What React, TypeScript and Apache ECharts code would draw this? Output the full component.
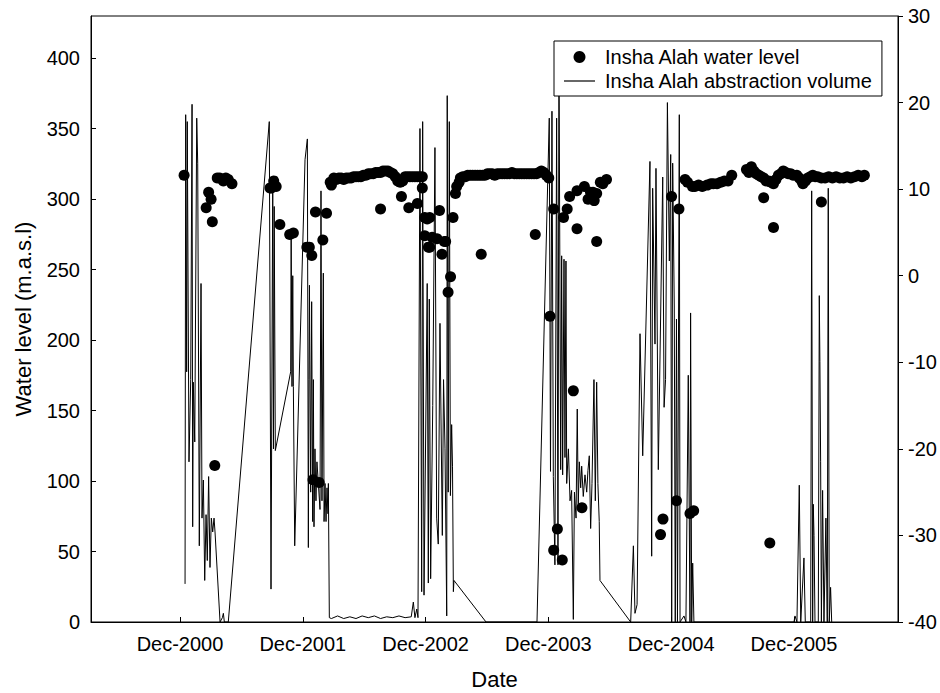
import React, { useEffect, useRef } from "react";
import * as echarts from "echarts";

// Water level (left axis, m.a.s.l) — date as decimal year
const wlDate = [
  2000.95, 2001.13, 2001.15, 2001.17, 2001.18, 2001.2, 2001.22, 2001.24, 2001.27, 2001.29, 2001.31, 2001.34,
  2001.65, 2001.66, 2001.68, 2001.7, 2001.73, 2001.81, 2001.84, 2001.95, 2001.97, 2001.99, 2002.0, 2002.02, 2002.05, 2002.08, 2002.11,
  2002.14, 2002.15, 2002.17, 2002.19, 2002.21, 2002.23, 2002.25, 2002.27, 2002.29, 2002.31, 2002.33, 2002.35, 2002.37, 2002.39,
  2002.41, 2002.43, 2002.45, 2002.47, 2002.49, 2002.51, 2002.53, 2002.55, 2002.57, 2002.59, 2002.61, 2002.63, 2002.65, 2002.67,
  2002.69, 2002.71, 2002.73, 2002.75, 2002.77, 2002.79, 2002.81, 2002.83, 2002.85, 2002.87, 2002.89,
  2002.55, 2002.72, 2002.78, 2002.85, 2002.89,
  2002.91, 2002.91, 2002.93, 2002.94, 2002.95, 2002.95, 2002.97, 2003.01, 2003.03, 2003.05, 2003.07, 2003.08, 2003.1, 2003.12, 2003.14,
  2003.16, 2003.17, 2003.19, 2003.2, 2003.22, 2003.24, 2003.26, 2003.28, 2003.3, 2003.32, 2003.34, 2003.36, 2003.38, 2003.4,
  2003.42, 2003.44, 2003.46, 2003.48, 2003.5, 2003.52, 2003.54, 2003.56, 2003.58, 2003.6, 2003.62, 2003.64, 2003.66, 2003.68,
  2003.7, 2003.72, 2003.74, 2003.76, 2003.78, 2003.8, 2003.82, 2003.84, 2003.86, 2003.88, 2003.9, 2003.92,
  2003.37, 2003.81,
  2003.93, 2003.96, 2003.96, 2003.99, 2004.03, 2004.04, 2004.07, 2004.09, 2004.12, 2004.15, 2004.15, 2004.19, 2004.21, 2004.24,
  2004.26, 2004.28, 2004.29, 2004.31, 2004.31, 2004.34, 2004.36, 2004.39,
  2004.83, 2004.85, 2004.92, 2004.96, 2004.98, 2005.03, 2005.05, 2005.07, 2005.1, 2005.09, 2005.11, 2005.14, 2005.17, 2005.21,
  2005.24, 2005.26, 2005.29, 2005.32, 2005.35, 2005.38, 2005.41,
  2005.53, 2005.55, 2005.57, 2005.59, 2005.61, 2005.63, 2005.65, 2005.67, 2005.67, 2005.69, 2005.71, 2005.72, 2005.73, 2005.75,
  2005.75, 2005.77, 2005.79, 2005.81, 2005.83, 2005.85, 2005.87, 2005.89, 2005.91, 2005.94, 2005.96, 2005.98, 2005.99, 2006.01,
  2006.03, 2006.05, 2006.07, 2006.09, 2006.11, 2006.14, 2006.14, 2006.17, 2006.2, 2006.23, 2006.26, 2006.29, 2006.32, 2006.35,
  2006.38, 2006.41, 2006.44, 2006.47, 2006.49,
];
const wlLevel = [
  317, 294, 305, 300, 284, 111, 315, 315, 313, 315, 314, 311,
  308, 308, 313, 309, 282, 275, 276, 266, 266, 260, 101, 291, 99, 271, 290,
  312, 310, 315, 314, 315, 315, 314, 315, 315, 315, 316, 316, 316, 316,
  317, 317, 318, 318, 318, 319, 319, 319, 320, 320, 320, 319, 318, 316,
  313, 312, 313, 316, 316, 316, 316, 316, 316, 316, 316,
  293, 302, 294, 297, 308,
  287, 274, 286, 266, 287, 266, 273, 272, 292, 261, 270, 270, 234, 245, 287,
  304, 309, 312, 315, 316, 316, 317, 317, 317, 317, 317, 317, 317, 317,
  318, 318, 318, 317, 318, 318, 318, 318, 318, 318, 319, 318, 318, 318,
  318, 318, 318, 318, 318, 318, 318, 319, 320, 319, 317, 315,
  261, 275,
  217, 293, 51, 66, 44, 287, 293, 302, 164, 279, 306, 81, 309, 300,
  305, 305, 299, 270, 304, 312, 311, 314,
  62, 73, 302, 86, 293, 314, 312, 77, 79, 309, 309, 310, 309, 310,
  311, 311, 311, 312, 313, 313, 317,
  321, 319, 323, 320, 318, 317, 316, 315, 301, 313, 313, 56, 312, 311,
  280, 314, 317, 318, 320, 319, 318, 318, 317, 317, 315, 313, 311, 313,
  315, 316, 317, 316, 316, 315, 298, 315, 316, 315, 316, 315, 315, 316,
  315, 316, 317, 316, 317,
];

// Abstraction volume (right axis)
const absDate = [
  2000.958, 2000.963, 2000.971, 2000.976, 2000.99, 2001.004, 2001.015, 2001.02, 2001.025, 2001.037, 2001.053, 2001.061,
  2001.074, 2001.088, 2001.096, 2001.107, 2001.118, 2001.129, 2001.139, 2001.15, 2001.161, 2001.172, 2001.183, 2001.194,
  2001.202, 2001.243, 2001.262, 2001.27, 2001.278, 2001.31,
  2001.644, 2001.658, 2001.672, 2001.678, 2001.684, 2001.693, 2001.818, 2001.822, 2001.829, 2001.835, 2001.84, 2001.851,
  2001.935, 2001.954, 2001.962, 2001.967, 2001.971, 2001.981, 2001.989, 2001.997, 2002.003, 2002.008, 2002.016, 2002.024,
  2002.032, 2002.057, 2002.065, 2002.073, 2002.084, 2002.09, 2002.098, 2002.106, 2002.114, 2002.122, 2002.125, 2002.133,
  2002.15, 2002.2, 2002.25, 2002.3, 2002.35, 2002.4, 2002.45, 2002.5, 2002.55, 2002.6, 2002.65, 2002.7, 2002.75, 2002.8,
  2002.817, 2002.83, 2002.845, 2002.855,
  2002.871, 2002.885, 2002.893, 2002.904, 2002.93, 2002.939, 2002.947, 2002.958, 2002.975, 2002.993, 2003.007, 2003.02,
  2003.034, 2003.053, 2003.063, 2003.075, 2003.089, 2003.093, 2003.101, 2003.11, 2003.119, 2003.129, 2003.136, 2003.143,
  2003.148, 2003.409, 2003.824,
  2003.924, 2003.934, 2003.946, 2003.957, 2003.97, 2003.984, 2003.995, 2004.003, 2004.017, 2004.025, 2004.033, 2004.044,
  2004.052, 2004.06, 2004.066, 2004.08, 2004.093, 2004.106, 2004.12, 2004.129, 2004.142, 2004.152, 2004.16, 2004.169,
  2004.18, 2004.188, 2004.201, 2004.215, 2004.229, 2004.239, 2004.25, 2004.261, 2004.272, 2004.288, 2004.299, 2004.31,
  2004.32, 2004.331, 2004.337, 2004.587,
  2004.609, 2004.622, 2004.639, 2004.663, 2004.685, 2004.744, 2004.758, 2004.766, 2004.785, 2004.793, 2004.812, 2004.848,
  2004.859, 2004.871, 2004.886, 2004.902, 2004.913, 2004.921, 2004.929, 2004.942, 2004.95, 2004.96, 2004.968, 2004.983,
  2004.989, 2005.021, 2005.037, 2005.056, 2005.07, 2005.075, 2005.084, 2005.092, 2005.102,
  2005.917, 2005.925, 2005.941, 2005.96, 2005.972, 2005.998, 2006.009, 2006.053, 2006.061, 2006.069, 2006.074, 2006.08,
  2006.088, 2006.115, 2006.123, 2006.128, 2006.134, 2006.14, 2006.15, 2006.161, 2006.177, 2006.188, 2006.196, 2006.204,
  2006.215, 2006.224,
];
const absVolume = [
  -35.6, 18.6, -11.1, 17.8, -21.5, -12, 19.8, -29, -12.3, -19.2, 18.2, 13,
  -31.2, -0.9, -28, -23.6, -35.2, -27.6, -32.9, -23.2, -33.7, -28, -29.6, -28,
  -29.6, -40, -39.5, -39, -40, -40,
  17.8, -36.2, 10.5, -20, 8, -20.2, -11.1, 4.9, -12.8, 0, -12.8, -31.2,
  13.4, 15.8, -31.4, -12, -1.1, -25, -3, -28.4, -12, -29, -20, -26,
  -21.5, -27, 9.8, -26, 0.3, -28.4, -24, -28.4, -24.5, -27.5, -24, -39.5,
  -39.6, -39.3, -39.6, -39.4, -39.6, -39.3, -39.5, -39.3, -39.6, -39.4, -39.5, -39.3, -39.5, -39.4,
  -37.7, -39.5, -38.5, -39.5,
  17, -36.5, 17.8, -36.9, -0.9, -35.5, -2.7, -35, -15, 14.8, -28, -31,
  -5.5, -30, -12, -20, -39.3, 20.8, -25, 17.8, -25.4, -17.2, -22, -36.5,
  -35.2, -40, -40,
  18.2, -22.6, 19, -23.2, -33.4, 18.2, -33.4, 26, -22.4, 2.3, -23, 1.9,
  -21, 1.7, -24, -20, -26, -24.8, -39.7, -25, -28, -15.4, -26.5, -21.5,
  -24.5, -22, -25.5, -23, -25, -22.5, -20.8, -29.2, -24, -12, -26, -12.3,
  -24, -28.4, -35.2, -40,
  -31.2, -39, -38, -6.7, -20.8, 13.2, -32.4, 10.1, -7.9, 12.4, -22.4, 11.4,
  -15.2, -12, 20, 1.7, 14, -40, 13, -3.5, -40, -5, -40, 18.6,
  -40, -39.3, -40, -11.5, -40, -4.3, -40, -33.2, -40,
  -40, -39.3, -40, -24.2, -40, -32.6, -40, -40, 9.8, -40, -26.4, -30,
  -40, -40, -2.3, -9.9, -21.5, -40, -24.8, -40, -28, -40, 10.1, -40,
  -36, -40,
];

const xTickYears = [2000, 2001, 2002, 2003, 2004, 2005];
const leftTicks = [0, 50, 100, 150, 200, 250, 300, 350, 400];

const FONT = "'Liberation Sans', Arial, Helvetica, sans-serif";

export default function App() {
  const ref = useRef<HTMLDivElement>(null);

  useEffect(() => {
    if (!ref.current) return;
    const chart = echarts.init(ref.current, null, { renderer: "svg" });
    const decValues = xTickYears.map((y) => y + 11 / 12);
    const wlData = wlDate.map((d, i) => [d, wlLevel[i]]);
    const absData = absDate.map((d, i) => [d, absVolume[i]]);

    chart.setOption({
      animation: false,
      backgroundColor: "#fff",
      textStyle: { fontFamily: FONT, color: "#000" },
      grid: {
        left: 91,
        right: 42,
        top: 16,
        bottom: 71,
        show: true,
        borderColor: "#000",
        borderWidth: 1,
        containLabel: false,
        outerBoundsMode: "none",
      },
      legend: {
        orient: "vertical",
        left: 554,
        top: 41,
        padding: [6, 9, 5, 10],
        itemGap: 4,
        itemWidth: 31,
        itemHeight: 12,
        borderColor: "#000",
        borderWidth: 1,
        borderRadius: 0,
        backgroundColor: "#fff",
        textStyle: { fontSize: 20, color: "#000", fontFamily: FONT, padding: [0, 0, 0, 5] },
        data: [
          { name: "Insha Alah water level", icon: "circle", itemStyle: { color: "#000", opacity: 1 } },
          {
            name: "Insha Alah abstraction volume",
            icon: "path://M0,0L31,0L31,1.2L0,1.2Z",
            itemStyle: { color: "#000", opacity: 1 },
          },
        ],
      },
      xAxis: {
        type: "value",
        min: 2000.192,
        max: 2006.764,
        name: "Date",
        nameLocation: "middle",
        nameGap: 46,
        nameTextStyle: { fontSize: 22, color: "#000", fontFamily: FONT },
        axisLine: { show: true, lineStyle: { color: "#000", width: 1 } },
        axisTick: { show: true, inside: true, length: 5, customValues: decValues, lineStyle: { color: "#000" } },
        axisLabel: {
          show: true,
          customValues: decValues,
          margin: 12,
          fontSize: 20,
          color: "#000",
          fontFamily: FONT,
          formatter: (v: number) => "Dec-" + Math.round(v - 11 / 12),
        },
        splitLine: { show: false },
      },
      yAxis: [
        {
          type: "value",
          position: "left",
          min: 0,
          max: 430,
          interval: 50,
          name: "Water level (m.a.s.l)",
          nameLocation: "middle",
          nameGap: 57,
          nameTextStyle: { fontSize: 22, color: "#000", fontFamily: FONT },
          axisLine: { show: true, lineStyle: { color: "#000", width: 1 } },
          axisTick: { show: true, inside: true, length: 5, customValues: leftTicks, lineStyle: { color: "#000" } },
          axisLabel: { show: true, customValues: leftTicks, margin: 11, fontSize: 20, color: "#000", fontFamily: FONT },
          splitLine: { show: false },
        },
        {
          type: "value",
          position: "right",
          min: -40,
          max: 30,
          interval: 10,
          axisLine: { show: true, lineStyle: { color: "#000", width: 1 } },
          axisTick: { show: true, inside: false, length: 5, lineStyle: { color: "#000" } },
          axisLabel: { show: true, margin: 10, fontSize: 20, color: "#000", fontFamily: FONT },
          splitLine: { show: false },
        },
      ],
      series: [
        {
          name: "Insha Alah water level",
          type: "scatter",
          yAxisIndex: 0,
          symbol: "circle",
          symbolSize: 11,
          itemStyle: { color: "#000", opacity: 1 },
          data: wlData,
          z: 2,
        },
        {
          name: "Insha Alah abstraction volume",
          type: "line",
          yAxisIndex: 1,
          symbol: "none",
          showSymbol: false,
          lineStyle: { color: "#000", width: 1 },
          itemStyle: { color: "#000" },
          data: absData,
          z: 3,
        },
      ],
    });

    return () => chart.dispose();
  }, []);

  return (
    <div
      ref={ref}
      style={{ position: "fixed", left: 0, top: 0, width: 940, height: 693, background: "#fff" }}
    />
  );
}
